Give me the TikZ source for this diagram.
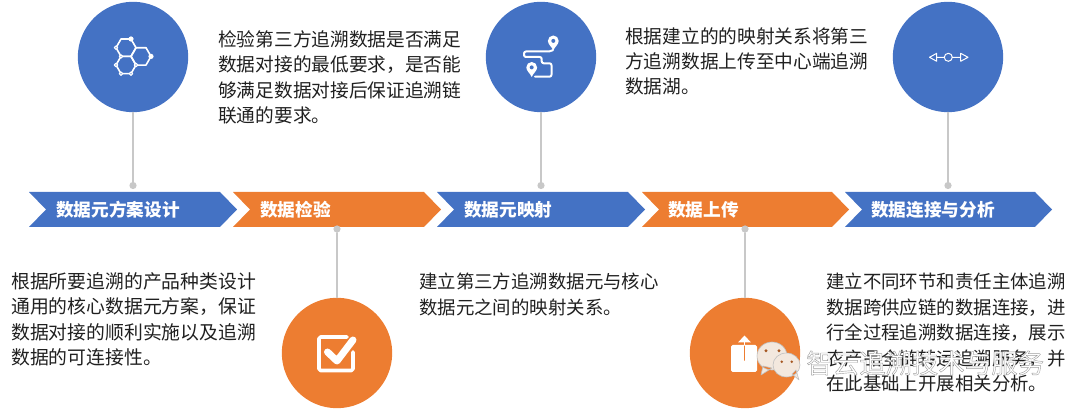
\documentclass[tikz,border=0pt]{standalone}
\usepackage{fontspec}
\setmainfont{Noto Sans CJK SC}
\usetikzlibrary{arrows.meta}

\definecolor{stepblue}{RGB}{68,114,196}
\definecolor{steporange}{RGB}{237,125,49}
\definecolor{pinc}{RGB}{200,200,200}
\definecolor{bodyc}{RGB}{32,32,32}
\definecolor{chatc}{RGB}{243,232,222}

\tikzset{
  mappin/.pic={
    \fill[white] (0,0) .. controls (-1.5,-3.8) and (-5.4,-6) .. (-5.4,-9.6)
      .. controls (-5.4,-12.6) and (-3,-15) .. (0,-15)
      .. controls (3,-15) and (5.4,-12.6) .. (5.4,-9.6)
      .. controls (5.4,-6) and (1.5,-3.8) .. (0,0) -- cycle;
    \fill[stepblue] (0,-9.6) circle[radius=2];
  }
}

\begin{document}
\begin{tikzpicture}[x=0.25mm,y=-0.25mm,line cap=round,line join=round,
  disc/.style={circle,minimum size=27.6mm,inner sep=0pt},
  pinhead/.style={circle,fill=pinc,minimum size=1.8mm,inner sep=0pt},
  pinline/.style={draw=pinc,line width=0.4mm},
  steplab/.style={anchor=west,inner sep=0pt,text=white,font=\fontsize{12.55}{15}\selectfont\bfseries},
  bodytext/.style={anchor=north west,inner sep=0pt,align=left,text=bodyc,
    font=\fontsize{#1}{18.1}\selectfont},
  icon/.style={draw=white,line width=0.4mm}]

  \useasboundingbox (0,0) rectangle (1080,410);

  % ---- chevrons ----
  \foreach \xa/\xb/\c/\lx/\name/\t in {
    29/220/stepblue/56/lab1/数据元方案设计,
    233/424/steporange/260/lab2/数据检验,
    437/628/stepblue/464/lab3/数据元映射,
    642/832/steporange/668/lab4/数据上传,
    845/1035/stepblue/871/lab5/数据连接与分析} {
    \fill[\c] (\xa,192) -- (\xb,192) -- (\xb+17,209.5) -- (\xb,227) -- (\xa,227)
      -- (\xa+17,209.5) -- cycle;
    \node[steplab] (\name) at (\lx,209.5) {\t};
  }

  % ---- discs ----
  \node[disc,fill=stepblue] (disc1) at (133,57) {};
  \node[disc,fill=steporange] (disc2) at (337,353) {};
  \node[disc,fill=stepblue] (disc3) at (541,57) {};
  \node[disc,fill=steporange] (disc4) at (745,353) {};
  \node[disc,fill=stepblue] (disc5) at (948,57) {};

  % ---- pins ----
  \node[pinhead] (pin1) at (133,185.5) {};
  \node[pinhead] (pin2) at (337,229) {};
  \node[pinhead] (pin3) at (541,185.5) {};
  \node[pinhead] (pin4) at (745,229) {};
  \node[pinhead] (pin5) at (948,185.5) {};
  \foreach \i in {1,...,5} { \draw[pinline] (disc\i) -- (pin\i); }

  % ---- hexagons ----
  \foreach \x/\y in {126/47.7,141/56.4,126/65} {
    \draw[icon] (\x+10,\y) -- (\x+5,\y-8.66) -- (\x-5,\y-8.66) -- (\x-10,\y)
      -- (\x-5,\y+8.66) -- (\x+5,\y+8.66) -- cycle;
  }
  \fill[white] (131,39) circle[radius=2.6] (151,56.4) circle[radius=2.6];
  \foreach \x/\y in {116/65,121/73.7,131/73.7,136/65,121/56.4,116/47.7} {
    \filldraw[fill=stepblue,draw=white,line width=0.3mm] (\x,\y) circle[radius=1.7];
  }

  % ---- map route ----
  \draw[icon,line width=0.5mm,rounded corners=0.5mm] (553,50) -- (551,51.5) -- (524,51.5)
    -- (524,57) -- (541.7,57) -- (541.7,63.3) -- (551.5,63.3) -- (551.5,76.7) -- (535,76.7);
  \pic at (553.3,50.5) {mappin};
  \pic at (531.7,77) {mappin};

  % ---- two-way arrow ----
  \draw[draw=white,line width=0.25mm] (948.3,57.3) circle[radius=4]
    (944.3,57.3) -- (936.7,57.3) (952.3,57.3) -- (960.7,57.3)
    (936.7,53.3) -- (929.5,57.3) -- (936.7,61.3) -- cycle
    (960.7,53.3) -- (968,57.3) -- (960.7,61.3) -- cycle;

  % ---- check box ----
  \draw[draw=white,line width=0.9mm,rounded corners=0.4mm] (347,337) -- (319,337) -- (319,370.5)
    -- (353,370.5) -- (353,352);
  \draw[draw=white,line width=1.75mm] (327.5,352) -- (337,361) -- (353,340);

  % ---- upload box ----
  \fill[white,rounded corners=0.4mm] (731,345) rectangle (757,372);
  \draw[steporange,line width=0.4mm] (744.5,345) -- (744.5,360);
  \draw[draw=white,line width=0.4mm] (744.5,345) -- (744.5,338);
  \fill[white] (744.5,335.5) -- (751,342.5) -- (738,342.5) -- cycle;

  % ---- body text ----
  \node[bodytext=13.4] (text1) at (11,272) {根据所要追溯的产品种类设计\\通用的核心数据元方案，保证\\数据对接的顺利实施以及追溯\\数据的可连接性。};
  \node[bodytext=13.3] (text2) at (218,30) {检验第三方追溯数据是否满足\\数据对接的最低要求，是否能\\够满足数据对接后保证追溯链\\联通的要求。};
  \node[bodytext=13.1] (text3) at (419,273) {建立第三方追溯数据元与核心\\数据元之间的映射关系。};
  \node[bodytext=13.3] (text4) at (625,27) {根据建立的的映射关系将第三\\方追溯数据上传至中心端追溯\\数据湖。};
  \node[bodytext=13.1] (text5) at (826,273) {建立不同环节和责任主体追溯\\数据跨供应链的数据连接，进\\行全过程追溯数据连接，展示\\农产品全链转运追溯服务，并\\在此基础上开展相关分析。};

  % ---- chat mark ----
  \fill[chatc,draw=gray!50,line width=0.15mm] (772,356) ellipse[x radius=15,y radius=14]
    (763,366) -- (761,375) -- (772,368) -- cycle;
  \fill[chatc,draw=gray!50,line width=0.15mm] (786.5,365) ellipse[x radius=13.5,y radius=12]
    (792,374) -- (799,380) -- (796,370) -- cycle;
  \fill[steporange!70!black] (766,350.7) circle[radius=1.6] (779,350.7) circle[radius=1.6]
    (781.7,361.7) circle[radius=1.4] (791.7,361.7) circle[radius=1.4];

  \node[anchor=west,inner sep=0pt,text=white,font=\fontsize{18.8}{20}\selectfont] (mark) at (806,363)
    {\special{pdf:code 2 Tr 0.3 w 0.62 0.62 0.62 RG}智云追溯技术与服务\special{pdf:code 0 Tr}};
\end{tikzpicture}
\end{document}
